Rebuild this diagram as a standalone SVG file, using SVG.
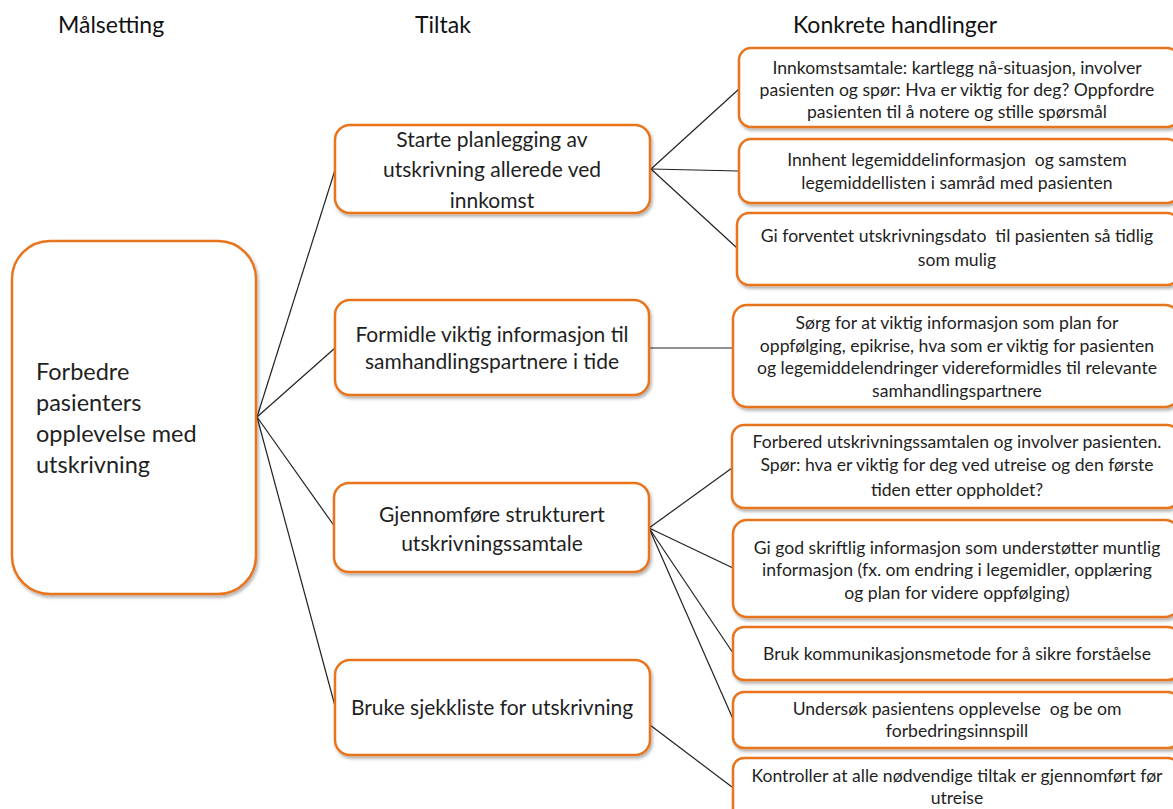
<svg xmlns="http://www.w3.org/2000/svg" width="1173" height="809" viewBox="0 0 1173 809">
<style>
.box{fill:#fff;stroke:#E8741E;stroke-width:2.5;filter:url(#sh)}
.t{font-family:Lato,"Open Sans",sans-serif;fill:#1f1f1f;text-anchor:middle;white-space:pre}
.mid{font-size:21px}
.r{font-size:17.6px}
.h{font-family:Lato,"Open Sans",sans-serif;font-size:23px;fill:#111}
.g{font-family:Lato,"Open Sans",sans-serif;font-size:23.5px;fill:#1f1f1f}
.c{stroke:#222;stroke-width:1.2;fill:none}
</style>
<defs>
<filter id="sh" x="-10%" y="-10%" width="130%" height="140%">
<feDropShadow dx="1.5" dy="2.5" stdDeviation="1.5" flood-color="#000" flood-opacity="0.3"/>
</filter>
</defs>
<rect width="1173" height="809" fill="#fff"/>
<g id="headers">
<text class="h" x="58" y="33">Målsetting</text>
<text class="h" x="415" y="33">Tiltak</text>
<text class="h" x="793" y="33">Konkrete handlinger</text>
</g>
<g id="connectors">
<line class="c" x1="257" y1="417" x2="335" y2="170"/>
<line class="c" x1="257" y1="417" x2="335" y2="348"/>
<line class="c" x1="257" y1="417" x2="335" y2="527"/>
<line class="c" x1="257" y1="417" x2="335" y2="706"/>
<line class="c" x1="651" y1="169" x2="739" y2="89"/>
<line class="c" x1="651" y1="169" x2="739" y2="171"/>
<line class="c" x1="651" y1="169" x2="737" y2="248"/>
<line class="c" x1="649" y1="348" x2="733" y2="348"/>
<line class="c" x1="649" y1="528" x2="732" y2="468"/>
<line class="c" x1="649" y1="528" x2="733" y2="568"/>
<line class="c" x1="649" y1="528" x2="733" y2="653"/>
<line class="c" x1="649" y1="528" x2="733" y2="719"/>
<line class="c" x1="650" y1="725" x2="732" y2="787"/>
</g>
<g id="goal">
<rect class="box" x="12" y="241" width="244" height="353" rx="38"/>
<text class="g"><tspan x="36" y="380">Forbedre</tspan><tspan x="36" y="411">pasienters</tspan><tspan x="36" y="442">opplevelse med</tspan><tspan x="36" y="473">utskrivning</tspan></text>
</g>
<g id="tiltak1">
<rect class="box" x="335" y="125" width="315" height="88" rx="15"/>
<text class="t mid"><tspan x="492" y="147">Starte planlegging av</tspan><tspan x="492" y="177">utskrivning allerede ved</tspan><tspan x="492" y="208">innkomst</tspan></text>
</g>
<g id="tiltak2">
<rect class="box" x="335" y="300" width="314" height="95" rx="15"/>
<text class="t mid"><tspan x="492" y="342">Formidle viktig informasjon til</tspan><tspan x="492" y="369">samhandlingspartnere i tide</tspan></text>
</g>
<g id="tiltak3">
<rect class="box" x="334" y="483" width="315" height="89" rx="15"/>
<text class="t mid"><tspan x="492" y="522">Gjennomføre strukturert</tspan><tspan x="492" y="551">utskrivningssamtale</tspan></text>
</g>
<g id="tiltak4">
<rect class="box" x="335" y="660" width="315" height="95" rx="15"/>
<text class="t mid"><tspan x="492" y="715">Bruke sjekkliste for utskrivning</tspan></text>
</g>
<g id="h1">
<rect class="box" x="739" y="48" width="440" height="79" rx="12"/>
<text class="t r"><tspan x="957" y="74">Innkomstsamtale: kartlegg nå-situasjon, involver</tspan><tspan x="957" y="96">pasienten og spør: Hva er viktig for deg? Oppfordre</tspan><tspan x="957" y="118">pasienten til å notere og stille spørsmål</tspan></text>
</g>
<g id="h2">
<rect class="box" x="739" y="139" width="440" height="64" rx="12"/>
<text class="t r"><tspan x="957" y="166">Innhent legemiddelinformasjon  og samstem</tspan><tspan x="957" y="189">legemiddellisten i samråd med pasienten</tspan></text>
</g>
<g id="h3">
<rect class="box" x="737" y="213" width="442" height="72" rx="12"/>
<text class="t r"><tspan x="957" y="242">Gi forventet utskrivningsdato  til pasienten så tidlig</tspan><tspan x="957" y="266">som mulig</tspan></text>
</g>
<g id="h4">
<rect class="box" x="733" y="305" width="446" height="102" rx="14"/>
<text class="t r"><tspan x="957" y="329">Sørg for at viktig informasjon som plan for</tspan><tspan x="957" y="352">oppfølging, epikrise, hva som er viktig for pasienten</tspan><tspan x="957" y="374">og legemiddelendringer videreformidles til relevante</tspan><tspan x="957" y="397">samhandlingspartnere</tspan></text>
</g>
<g id="h5">
<rect class="box" x="732" y="425" width="447" height="83" rx="12"/>
<text class="t r"><tspan x="957" y="448">Forbered utskrivningssamtalen og involver pasienten.</tspan><tspan x="957" y="471">Spør: hva er viktig for deg ved utreise og den første</tspan><tspan x="957" y="496">tiden etter oppholdet?</tspan></text>
</g>
<g id="h6">
<rect class="box" x="733" y="520" width="446" height="97" rx="14"/>
<text class="t r"><tspan x="957" y="554">Gi god skriftlig informasjon som understøtter muntlig</tspan><tspan x="957" y="576">informasjon (fx. om endring i legemidler, opplæring</tspan><tspan x="957" y="599">og plan for videre oppfølging)</tspan></text>
</g>
<g id="h7">
<rect class="box" x="733" y="627" width="446" height="53" rx="11"/>
<text class="t r"><tspan x="957" y="660">Bruk kommunikasjonsmetode for å sikre forståelse</tspan></text>
</g>
<g id="h8">
<rect class="box" x="733" y="692" width="446" height="56" rx="11"/>
<text class="t r"><tspan x="957" y="715">Undersøk pasientens opplevelse  og be om</tspan><tspan x="957" y="737">forbedringsinnspill</tspan></text>
</g>
<g id="h9">
<rect class="box" x="733" y="758" width="446" height="70" rx="11"/>
<text class="t r"><tspan x="957" y="782">Kontroller at alle nødvendige tiltak er gjennomført før</tspan><tspan x="957" y="804">utreise</tspan></text>
</g>
</svg>
